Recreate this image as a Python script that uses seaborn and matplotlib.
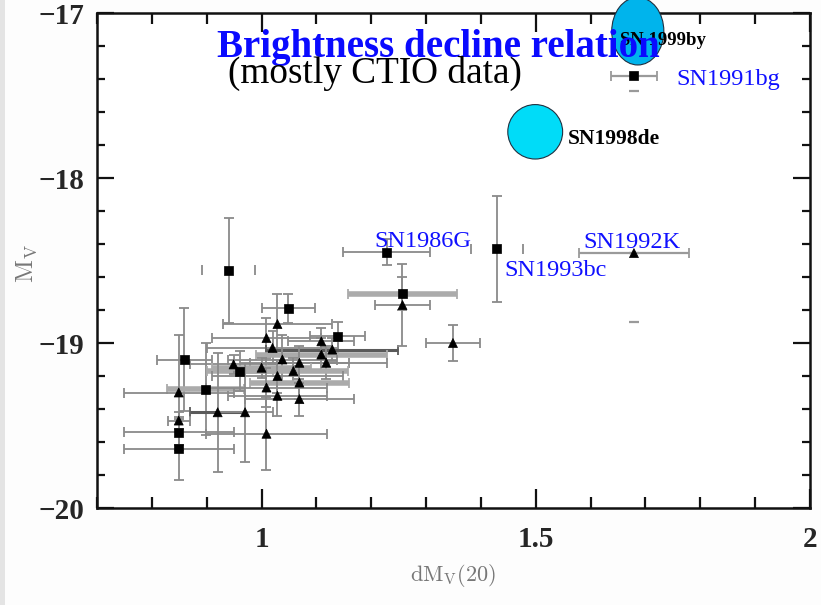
import numpy as np
import pandas as pd
import matplotlib
matplotlib.use("Agg")
import matplotlib.pyplot as plt
import seaborn as sns
from matplotlib.patches import Ellipse, Rectangle
from matplotlib.ticker import MultipleLocator, FixedLocator
from matplotlib.font_manager import FontProperties

# ---------------- data ----------------
sq_x = [0.94, 1.049, 1.139, 0.859, 0.898, 0.96, 0.849, 0.849, 1.228, 1.257, 1.429, 1.679]
sq_y = [-18.56, -18.79, -18.96, -19.10, -19.28, -19.17, -19.54, -19.64, -18.45, -18.70, -18.43, -17.38]
sq_xerr = [0.048, 0.049, 0.05, 0.05, 0.07, 0.06, 0.10, 0.10, 0.08, 0.10, 0.048, 0.042]
sq_yerr = [0.32, 0.09, 0.09, 0.31, 0.28, 0.12, 0.08, 0.19, 0.08, 0.10, 0.32, 0.09]
sq_kind = ["capx", "thin", "thin", "thin", "thick", "thick", "thin", "thin", "thin", "thick", "capx", "capy"]

tr_x = [1.029, 1.009, 1.02, 1.109, 1.129, 1.109, 1.038, 1.069, 1.118, 0.949, 1.0, 1.058, 1.029,
        1.069, 1.009, 1.029, 1.069, 0.92, 0.97, 1.009, 0.849, 0.849, 1.257, 1.349, 1.679]
tr_y = [-18.885, -18.97, -19.03, -18.99, -19.04, -19.07, -19.10, -19.12, -19.12, -19.13, -19.15, -19.17, -19.20,
        -19.24, -19.27, -19.32, -19.34, -19.42, -19.42, -19.55, -19.30, -19.47, -18.77, -19.00, -18.455]
tr_xerr = [0.10, 0.10, 0.12, 0.06, 0.12, 0.12, 0.10, 0.09, 0.11, 0.08, 0.09, 0.10, 0.12,
           0.09, 0.11, 0.09, 0.10, 0.05, 0.05, 0.11, 0.10, 0.02, 0.05, 0.05, 0.10]
tr_yerr = [0.18, 0.12, 0.10, 0.08, 0.07, 0.10, 0.15, 0.10, 0.10, 0.06, 0.06, 0.08, 0.10,
           0.10, 0.12, 0.12, 0.10, 0.36, 0.30, 0.22, 0.35, 0.05, 0.25, 0.11, 0.42]
tr_kind = ["thin", "thin", "thin", "thin", "dark", "thick", "thin", "thin", "thin", "thin", "thick", "thick", "thin",
           "thick", "thin", "thin", "thin", "dark", "thin", "thin", "thin", "thin", "thin", "thin", "capy"]

blue_labels = ["SN1991bg", "SN1986G", "SN1993bc", "SN1992K"]
blue_lx = [1.7555, 1.206, 1.443, 1.586]
blue_ly = [-17.40, -18.382, -18.558, -18.388]

special_names = ["SN 1999by", "SN1998de"]
special_x = [1.686, 1.499]
special_y = [-17.11, -17.72]

title_text = "Brightness decline relation"
subtitle_text = "(mostly CTIO data)"
x_ticks = [1, 1.5, 2]
x_tick_labels = ["1", "1.5", "2"]
y_ticks = [-20, -19, -18, -17]
y_tick_labels = ["\u221220", "\u221219", "\u221218", "\u221217"]

# ---------------- frame ----------------
df = pd.DataFrame({
    "x": sq_x + tr_x,
    "y": sq_y + tr_y,
    "xerr": sq_xerr + tr_xerr,
    "yerr": sq_yerr + tr_yerr,
    "kind": sq_kind + tr_kind,
    "shape": ["sq"] * len(sq_x) + ["tri"] * len(tr_x),
})

sns.set_style("ticks")
plt.rcParams["mathtext.fontset"] = "cm"

W, H = 821, 605
fig = plt.figure(figsize=(W / 100, H / 100), dpi=100, facecolor="#fdfdfd")
ax = fig.add_axes([97 / W, 1 - 508 / H, (810 - 97) / W, (508 - 13) / H])
ax.set_facecolor("white")
fig.patches.append(Rectangle((0, 0), 5 / W, 1, transform=fig.transFigure,
                             facecolor="#e4e4e4", edgecolor="none", zorder=0))

styles = {
    "thin": dict(color="#8a8a8a", lw=1.3),
    "thick": dict(color="#ababab", lw=4.0),
    "dark": dict(color="#5a5a5a", lw=2.2),
}

for _, r in df.iterrows():
    k = r["kind"]
    if k in styles:
        st = styles[k]
        ax.errorbar(r["x"], r["y"], xerr=r["xerr"], fmt="none", ecolor=st["color"],
                    elinewidth=st["lw"], capsize=3.5, capthick=1.3, zorder=2)
        ax.errorbar(r["x"], r["y"], yerr=r["yerr"], fmt="none", ecolor="#8a8a8a",
                    elinewidth=1.3, capsize=3.5, capthick=1.3, zorder=2)
    elif k == "capx":
        eb = ax.errorbar(r["x"], r["y"], xerr=r["xerr"], fmt="none", ecolor="#8a8a8a",
                         elinewidth=1.3, capsize=3.5, capthick=1.3, zorder=2)
        eb[2][0].set_visible(False)
        ax.errorbar(r["x"], r["y"], yerr=r["yerr"], fmt="none", ecolor="#8a8a8a",
                    elinewidth=1.3, capsize=3.5, capthick=1.3, zorder=2)
    elif k == "capy":
        ax.errorbar(r["x"], r["y"], xerr=r["xerr"], fmt="none", ecolor="#9a9a9a",
                    elinewidth=1.6, capsize=3.5, capthick=1.3, zorder=2)
        eb = ax.errorbar(r["x"], r["y"], yerr=[[r["yerr"]], [0]], fmt="none", ecolor="#9a9a9a",
                         elinewidth=1.3, capsize=3.5, capthick=1.6, zorder=2)
        eb[2][0].set_visible(False)

sns.scatterplot(data=df, x="x", y="y", style="shape", markers={"sq": "s", "tri": "^"},
                color="black", s=42, edgecolor="black", linewidth=0.5, legend=False,
                ax=ax, zorder=3)

# special SNe as ellipses
ell_w = [0.095, 0.10]
ell_h = [0.41, 0.33]
ell_c = ["#00b4ec", "#00dcf8"]
for xx, yy, w, h, c in zip(special_x, special_y, ell_w, ell_h, ell_c):
    ax.add_patch(Ellipse((xx, yy), w, h, facecolor=c, edgecolor="#203040", lw=0.8,
                         clip_on=False, zorder=5))

ax.text(1.653, -17.164, special_names[0], fontsize=13.5, fontweight="bold",
        family="Liberation Serif", va="center", ha="left", color="black", zorder=7)
ax.text(1.558, -17.764, special_names[1], fontsize=15.5, fontweight="bold",
        family="Liberation Serif", va="center", ha="left", color="black", zorder=7)

for lab, lx, ly in zip(blue_labels, blue_lx, blue_ly):
    ax.text(lx, ly, lab, fontsize=17.5, family="Liberation Serif", color="#1010ff",
            va="center", ha="left", zorder=6)

fig.text(217 / W, 1 - 57 / H, title_text, fontsize=28, fontweight="bold",
         family="Liberation Serif", color="#0a0aff", ha="left", va="baseline", zorder=8)
fig.text(228 / W, 1 - 83 / H, subtitle_text, fontsize=26.8,
         family="Liberation Serif", color="black", ha="left", va="baseline", zorder=8)

# ---------------- axes ----------------
ax.set_xlim(0.7, 2.0)
ax.set_ylim(-20, -17)
ax.xaxis.set_major_locator(FixedLocator(x_ticks))
ax.set_xticklabels(x_tick_labels)
ax.xaxis.set_minor_locator(MultipleLocator(0.1))
ax.yaxis.set_major_locator(FixedLocator(y_ticks))
ax.set_yticklabels(y_tick_labels)
ax.yaxis.set_minor_locator(MultipleLocator(0.2))

for sp in ax.spines.values():
    sp.set_visible(True)
    sp.set_linewidth(1.8)
    sp.set_color("#111111")

ax.tick_params(axis="both", which="both", direction="in", top=True, right=True,
               width=1.6, color="#111111")
ax.tick_params(axis="x", which="major", length=14, pad=13)
ax.tick_params(axis="x", which="minor", length=8)
ax.tick_params(axis="y", which="major", length=12, pad=9)
ax.tick_params(axis="y", which="minor", length=5.5)

tick_fp = FontProperties(family=["Liberation Serif"], weight="bold", size=21)
for lab in ax.get_xticklabels() + ax.get_yticklabels():
    lab.set_fontproperties(tick_fp)

ax.set_xlabel(r"$\mathrm{dM_V(20)}$", fontsize=16, color="#777777")
ax.xaxis.set_label_coords(0.5, -0.11)
ax.set_ylabel("")
fig.text(27 / W, 1 - 264 / H, r"$\mathrm{M_V}$", fontsize=18, color="#777777",
         rotation=90, ha="center", va="center")

fig.savefig("out.png", dpi=100, facecolor=fig.get_facecolor())
